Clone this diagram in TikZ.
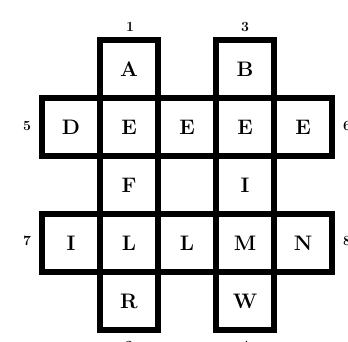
\documentclass[tikz,border=0pt]{standalone}
\usepackage{fontspec}
\usepackage{tikz}

\begin{document}
\begin{tikzpicture}[
  x=1pt, y=-1pt,
  cell/.style={minimum size=58pt, inner sep=0pt, outer sep=0pt,
               font=\fontsize{21}{21}\selectfont\bfseries},
  strip/.style={draw, line width=6.5pt, line join=miter},
  num/.style={inner sep=0pt, font=\fontsize{14}{14}\selectfont\bfseries}
]
\useasboundingbox (0,0) rectangle (348,342);

% ---- column 1 (down) ----
\node[cell] (a)  at (129,69)  {A};
\node[cell] (e1) at (129,127) {E};
\node[cell] (f)  at (129,185) {F};
\node[cell] (l1) at (129,243) {L};
\node[cell] (r)  at (129,301) {R};

% ---- column 3 (down) ----
\node[cell] (b)  at (245,69)  {B};
\node[cell] (e3) at (245,127) {E};
\node[cell] (i2) at (245,185) {I};
\node[cell] (m)  at (245,243) {M};
\node[cell] (w)  at (245,301) {W};

% ---- row 5 (across) ----
\node[cell] (d)  at (71,127)  {D};
\node[cell] (e2) at (187,127) {E};
\node[cell] (e4) at (303,127) {E};

% ---- row 7 (across) ----
\node[cell] (i1) at (71,243)  {I};
\node[cell] (l2) at (187,243) {L};
\node[cell] (n)  at (303,243) {N};

% ---- word strips ----
\draw[strip] (a.north west) rectangle (r.south east);
\draw[strip] (b.north west) rectangle (w.south east);
\draw[strip] (d.north west) rectangle (e4.south east);
\draw[strip] (i1.north west) rectangle (n.south east);

% ---- clue numbers ----
\node[num] (n1) at (130,27)  {1};
\node[num] (n3) at (245,27)  {3};
\node[num] (n2) at (129,346) {2};
\node[num] (n4) at (245,346) {4};
\node[num] (n5) at (27,126)  {5};
\node[num] (n6) at (347,126) {6};
\node[num] (n7) at (27,241)  {7};
\node[num] (n8) at (347,241) {8};

\end{tikzpicture}
\end{document}
